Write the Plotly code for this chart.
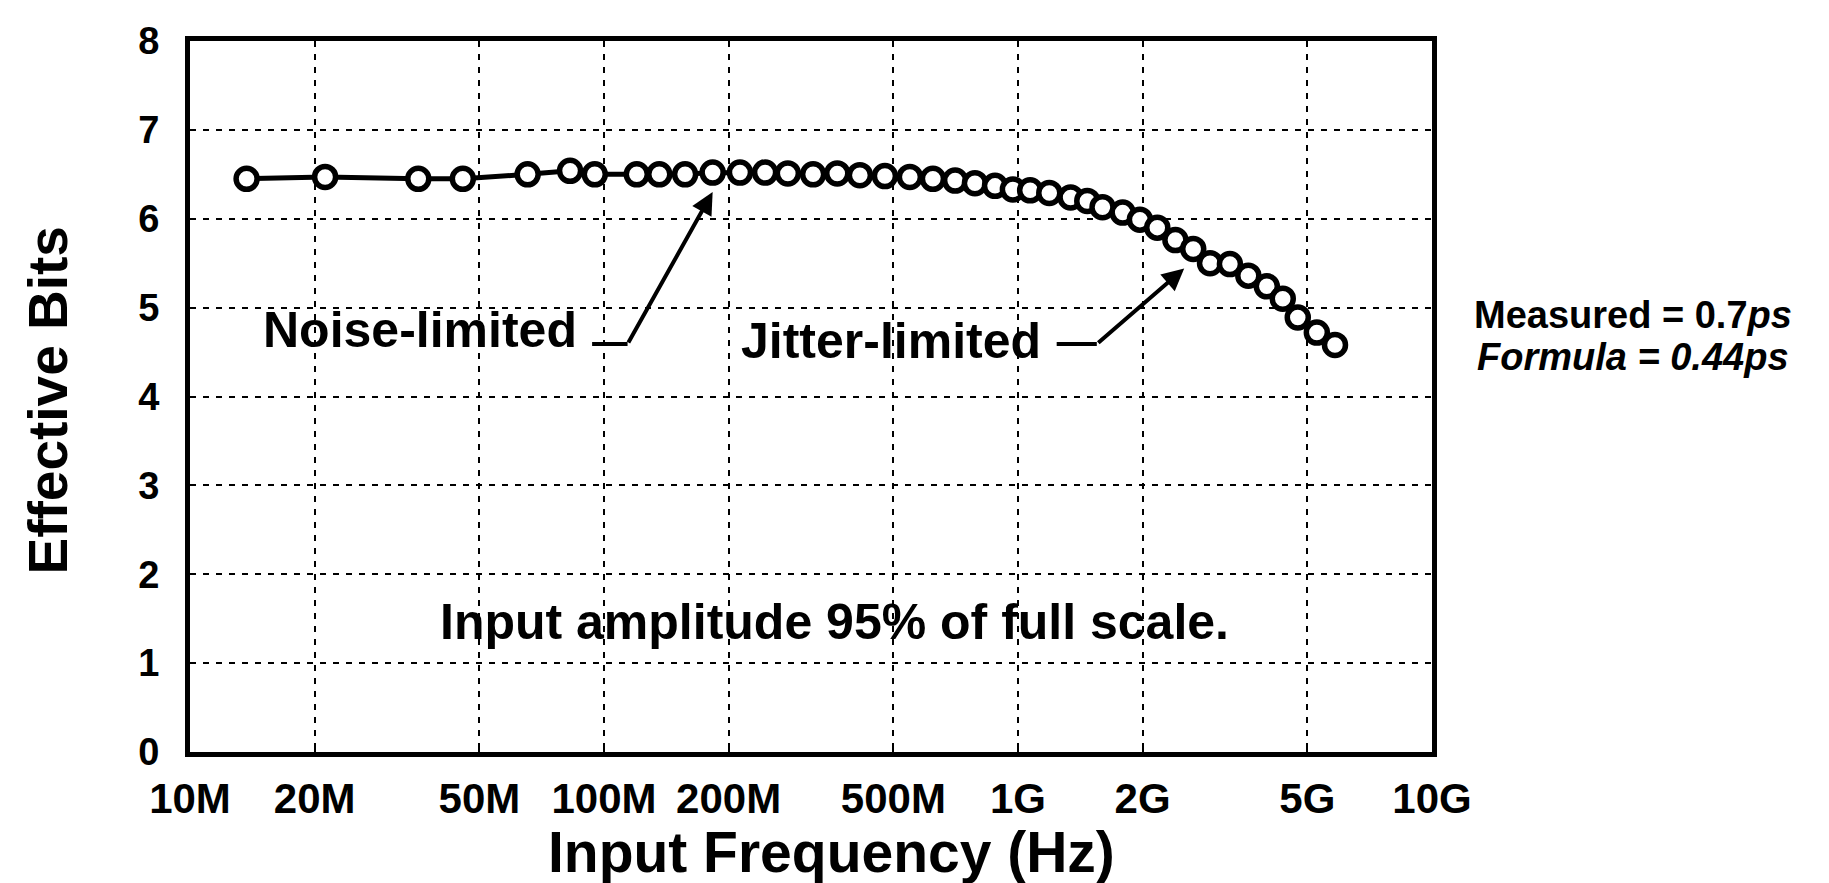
import math
import plotly.graph_objects as go

# ---- data ----
freq_hz = [13.7e6, 21.2e6, 35.6e6, 45.6e6, 65.4e6, 82.8e6, 95e6, 120e6, 136e6, 157e6,
           183e6, 213e6, 245e6, 278e6, 320e6, 366e6, 415e6, 477e6, 548e6, 623e6,
           705e6, 787e6, 880e6, 972e6, 1.07e9, 1.19e9, 1.34e9, 1.47e9, 1.60e9, 1.79e9,
           1.97e9, 2.17e9, 2.40e9, 2.65e9, 2.91e9, 3.25e9, 3.60e9, 3.99e9, 4.36e9, 4.74e9,
           5.27e9, 5.83e9]
eff_bits = [6.45, 6.47, 6.45, 6.45, 6.50, 6.54, 6.50, 6.50, 6.50, 6.50,
            6.52, 6.52, 6.52, 6.51, 6.50, 6.51, 6.49, 6.48, 6.47, 6.45,
            6.43, 6.40, 6.37, 6.33, 6.32, 6.29, 6.24, 6.20, 6.13, 6.07,
            5.99, 5.90, 5.76, 5.66, 5.50, 5.49, 5.36, 5.24, 5.10, 4.89,
            4.72, 4.58]

x_tickvals = [1e7, 2e7, 5e7, 1e8, 2e8, 5e8, 1e9, 2e9, 5e9, 1e10]
x_ticktext = ["10M", "20M", "50M", "100M", "200M", "500M", "1G", "2G", "5G", "10G"]
y_tickvals = [0, 1, 2, 3, 4, 5, 6, 7, 8]

# annotation anchors: (frequency, bits)
noise_stub_f = [93.6e6, 114e6]
noise_stub_v = [4.59, 4.59]
noise_head = (183e6, 6.30)
noise_label = (36e6, 4.75)

jitter_stub_f = [1.24e9, 1.55e9]
jitter_stub_v = [4.59, 4.59]
jitter_head = (2.52e9, 5.44)
jitter_label = (493e6, 4.62)

note_pos = (361e6, 1.46)

FONT = "Liberation Sans"
PAGE_OFFSET = 8  # default body margin of the written html page

fig = go.Figure()

fig.add_trace(go.Scatter(
    x=freq_hz, y=eff_bits, mode="lines+markers",
    line=dict(color="black", width=5),
    marker=dict(symbol="circle", size=21, color="white",
                line=dict(color="black", width=5.5)),
    showlegend=False, hoverinfo="skip"))

for sf, sv in [(noise_stub_f, noise_stub_v), (jitter_stub_f, jitter_stub_v)]:
    fig.add_trace(go.Scatter(x=sf, y=sv, mode="lines",
                             line=dict(color="black", width=4),
                             showlegend=False, hoverinfo="skip"))

annotations = []
for stub_f, stub_v, head in [(noise_stub_f, noise_stub_v, noise_head),
                             (jitter_stub_f, jitter_stub_v, jitter_head)]:
    annotations.append(dict(
        x=math.log10(head[0]), y=head[1], xref="x", yref="y",
        ax=math.log10(stub_f[1]), ay=stub_v[1], axref="x", ayref="y",
        showarrow=True, arrowhead=2, arrowsize=1.1, arrowwidth=4,
        arrowcolor="black", text=""))

big = dict(family=FONT, size=50, color="black", weight="bold")
annotations.append(dict(x=math.log10(noise_label[0]), y=noise_label[1], xref="x", yref="y",
                        text="Noise-limited", showarrow=False, font=big))
annotations.append(dict(x=math.log10(jitter_label[0]), y=jitter_label[1], xref="x", yref="y",
                        text="Jitter-limited", showarrow=False, font=big))
annotations.append(dict(x=math.log10(note_pos[0]), y=note_pos[1], xref="x", yref="y",
                        text="Input amplitude 95% of full scale.", showarrow=False, font=big))

side = dict(family=FONT, size=38, color="black", weight="bold")
annotations.append(dict(x=1.162, y=0.615, xref="paper", yref="paper", xanchor="center",
                        yanchor="middle", text="Measured = 0.7<i>ps</i>", showarrow=False,
                        font=side))
annotations.append(dict(x=1.162, y=0.556, xref="paper", yref="paper", xanchor="center",
                        yanchor="middle", text="<i>Formula = 0.44ps</i>", showarrow=False,
                        font=side))

annotations.append(dict(x=0.5, y=0, xref="paper", yref="paper", yshift=-100, xshift=20,
                        text="Input Frequency (Hz)", showarrow=False, yanchor="middle",
                        xanchor="center",
                        font=dict(family=FONT, size=57, color="black", weight="bold")))
annotations.append(dict(x=0, y=0.5, xref="paper", yref="paper", xshift=-143, yshift=-4,
                        text="Effective Bits", showarrow=False, textangle=-90,
                        xanchor="center", yanchor="middle",
                        font=dict(family=FONT, size=55, color="black", weight="bold")))

fig.update_layout(
    width=1829 - PAGE_OFFSET, height=883 - PAGE_OFFSET,
    margin=dict(l=190 - PAGE_OFFSET, r=397, t=32 - PAGE_OFFSET, b=131),
    paper_bgcolor="white", plot_bgcolor="white",
    annotations=annotations,
)

fig.update_xaxes(
    type="log", range=[7, 10],
    tickvals=x_tickvals, ticktext=x_ticktext,
    tickfont=dict(family=FONT, size=42, color="black", weight="bold"),
    showgrid=True, gridcolor="black", gridwidth=2, griddash="6px,7px",
    showline=True, linecolor="black", linewidth=5, mirror=True,
    ticks="inside", ticklen=6, tickwidth=2, tickcolor="black",
    ticklabelstandoff=6, zeroline=False,
)
fig.update_yaxes(
    range=[0, 8], tickvals=y_tickvals,
    tickfont=dict(family=FONT, size=38, color="black", weight="bold"),
    showgrid=True, gridcolor="black", gridwidth=2, griddash="6px,7px",
    showline=True, linecolor="black", linewidth=5, mirror=True,
    ticks="", ticklabelstandoff=18, zeroline=False,
)

fig.write_html("out.html")
